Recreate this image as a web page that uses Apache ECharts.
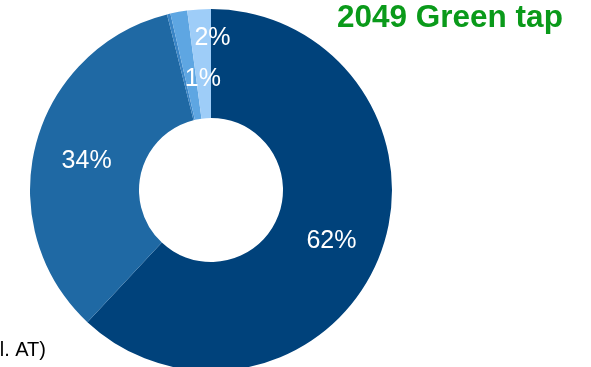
<!DOCTYPE html>
<html>
<head>
<meta charset="utf-8">
<script src="https://cdn.jsdelivr.net/npm/echarts@6/dist/echarts.min.js"></script>
<style>
html,body{margin:0;padding:0;background:#fff;}
#chart{width:591px;height:367px;}
</style>
</head>
<body>
<div id="chart"></div>
<script>
var categories = ['A', 'B', 'C', 'D', 'E'];
var values = [61.9, 34.1, 0.3, 1.5, 2.1];
var labelTexts = ['62%', '34%', '', '1%', '2%'];
var colors = ['#00427b', '#1f69a4', '#3a85c6', '#5ea6e2', '#9ecdf8'];
var labelOffsets = [[0, 4], [1, 4], [0, 0], [15, 17], [10, -23]];

var chart = echarts.init(document.getElementById('chart'), null, {renderer: 'canvas'});
var data = categories.map(function (c, i) {
  return {
    name: c,
    value: values[i],
    itemStyle: {color: colors[i]},
    label: {show: labelTexts[i] !== '', offset: labelOffsets[i]}
  };
});
chart.setOption({
  animation: false,
  graphic: [
    {type: 'text', left: 337, top: 2, style: {text: '2049 Green tap', fill: '#0a9a1a', font: 'bold 31.5px "Liberation Sans", Arial, sans-serif'}},
    {type: 'text', right: 545, top: 340, style: {text: '(incl. AT)', fill: '#000', font: '20px "Liberation Sans", Arial, sans-serif'}}
  ],
  series: [{
    type: 'pie',
    center: [211, 190],
    radius: [72, 181],
    startAngle: 90,
    clockwise: true,
    avoidLabelOverlap: false,
    labelLine: {show: false},
    itemStyle: {borderWidth: 0},
    emphasis: {disabled: true},
    label: {
      position: 'inside',
      color: '#fff',
      fontSize: 25,
      fontFamily: '"Liberation Sans", Arial, sans-serif',
      formatter: function (p) { return labelTexts[p.dataIndex]; }
    },
    data: data
  }]
});
</script>
</body>
</html>
